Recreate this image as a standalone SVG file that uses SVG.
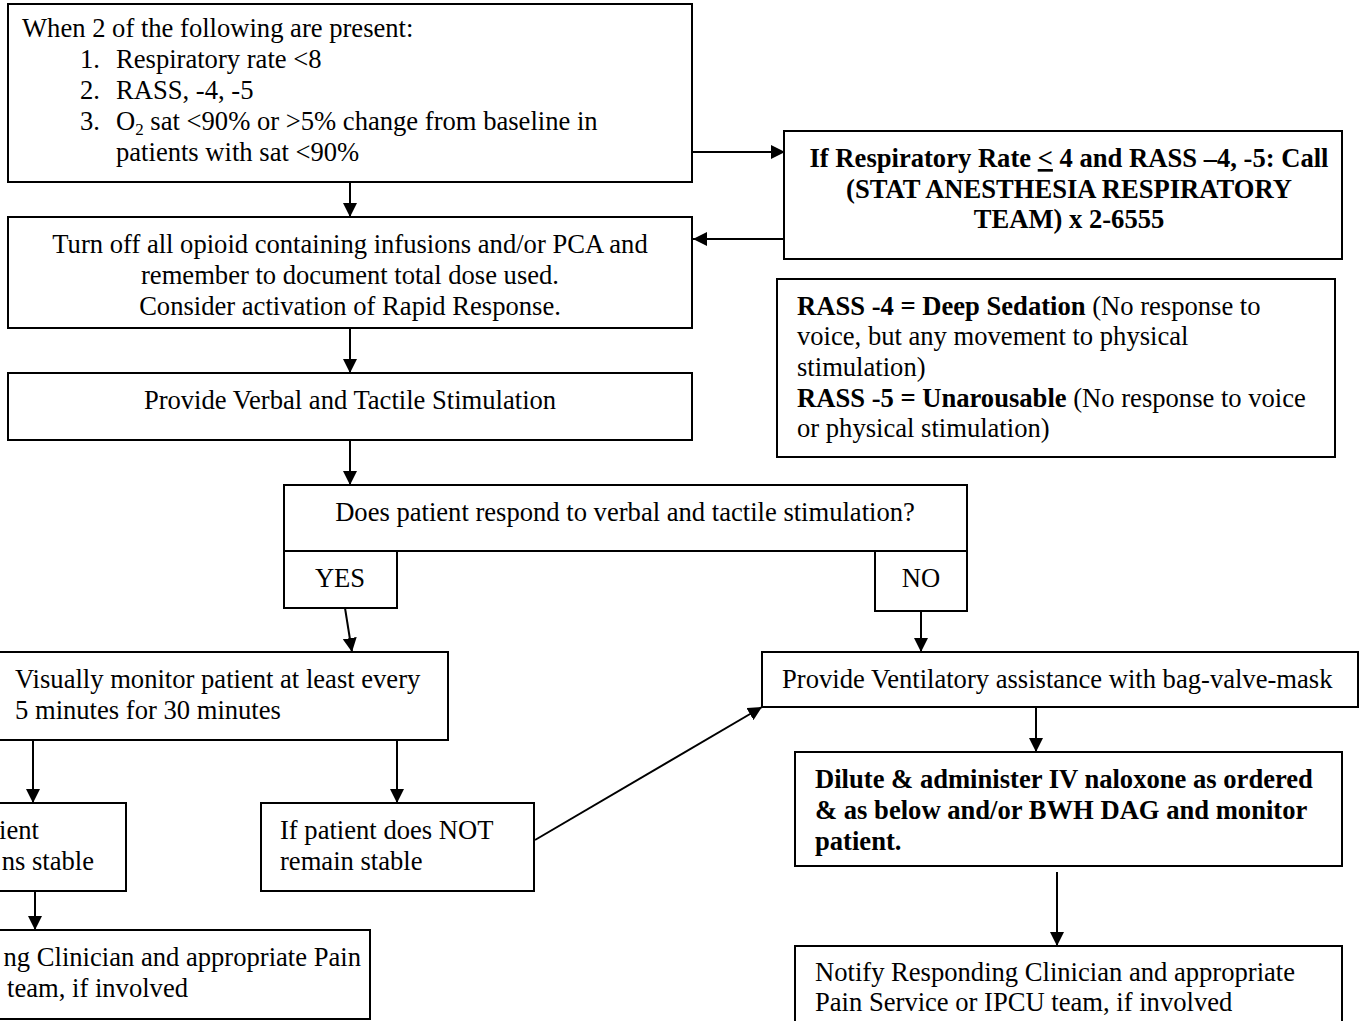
<svg xmlns="http://www.w3.org/2000/svg" width="1362" height="1021" viewBox="0 0 1362 1021">
<defs>
<style>
.box{fill:#fff;stroke:#000;stroke-width:2}
.t{font-family:"Liberation Serif","Times New Roman",serif;font-size:26.6px;fill:#000}
.b{font-weight:bold}
.m{text-anchor:middle}
.e{text-anchor:end}
.c{stroke:#000;stroke-width:2;fill:none;marker-end:url(#ah)}
</style>
<marker id="ah" markerUnits="userSpaceOnUse" markerWidth="14" markerHeight="14" viewBox="0 0 14 14" refX="14" refY="7" orient="auto">
<path d="M0,0 L14,7 L0,14 z" fill="#000"/>
</marker>
</defs>
<rect width="1362" height="1021" fill="#fff"/>
<g id="connectors">
<line class="c" x1="692" y1="152" x2="785" y2="152"/>
<line class="c" x1="784" y1="239" x2="693" y2="239"/>
<line class="c" x1="350" y1="182" x2="350" y2="217"/>
<line class="c" x1="350" y1="328" x2="350" y2="373"/>
<line class="c" x1="350" y1="440" x2="350" y2="485"/>
<line class="c" x1="345" y1="608" x2="352" y2="652"/>
<line class="c" x1="921" y1="611" x2="921" y2="652"/>
<line class="c" x1="33" y1="737" x2="33" y2="803"/>
<line class="c" x1="397" y1="737" x2="397" y2="803"/>
<line class="c" x1="35" y1="889" x2="35" y2="930"/>
<line class="c" x1="535" y1="840" x2="762" y2="707"/>
<line class="c" x1="1036" y1="707" x2="1036" y2="752"/>
<line class="c" x1="1057" y1="872" x2="1057" y2="946"/>
</g>
<g id="n1">
<rect class="box" x="8" y="4" width="684" height="178"/>
<text class="t" x="22" y="37">When 2 of the following are present:</text>
<text class="t" x="80" y="68">1.</text><text class="t" x="116" y="68">Respiratory rate &lt;8</text>
<text class="t" x="80" y="99">2.</text><text class="t" x="116" y="99">RASS, -4, -5</text>
<text class="t" x="80" y="130">3.</text><text class="t" x="116" y="130">O<tspan font-size="17" dy="5">2</tspan><tspan dy="-5"> sat &lt;90% or &gt;5% change from baseline in</tspan></text>
<text class="t" x="116" y="161">patients with sat &lt;90%</text>
</g>
<g id="n2">
<rect class="box" x="784" y="131" width="558" height="128"/>
<text class="t b m" x="1069" y="167">If Respiratory Rate <tspan text-decoration="underline">&lt;</tspan> 4 and RASS –4, -5: Call</text>
<text class="t b m" x="1069" y="198">(STAT ANESTHESIA RESPIRATORY</text>
<text class="t b m" x="1069" y="228">TEAM) x 2-6555</text>
</g>
<g id="n3">
<rect class="box" x="8" y="217" width="684" height="111"/>
<text class="t m" x="350" y="253">Turn off all opioid containing infusions and/or PCA and</text>
<text class="t m" x="350" y="284">remember to document total dose used.</text>
<text class="t m" x="350" y="315">Consider activation of Rapid Response.</text>
</g>
<g id="n4">
<rect class="box" x="777" y="279" width="558" height="178"/>
<text class="t" x="797" y="315"><tspan class="b">RASS -4 = Deep Sedation</tspan> (No response to</text>
<text class="t" x="797" y="345">voice, but any movement to physical</text>
<text class="t" x="797" y="376">stimulation)</text>
<text class="t" x="797" y="407"><tspan class="b">RASS -5 = Unarousable</tspan> (No response to voice</text>
<text class="t" x="797" y="437">or physical stimulation)</text>
</g>
<g id="n5">
<rect class="box" x="8" y="373" width="684" height="67"/>
<text class="t m" x="350" y="409">Provide Verbal and Tactile Stimulation</text>
</g>
<g id="n6">
<rect class="box" x="284" y="485" width="683" height="66"/>
<text class="t m" x="625" y="521">Does patient respond to verbal and tactile stimulation?</text>
</g>
<g id="n7">
<rect class="box" x="284" y="551" width="113" height="57"/>
<text class="t m" x="340" y="587">YES</text>
</g>
<g id="n8">
<rect class="box" x="875" y="551" width="92" height="60"/>
<text class="t m" x="921" y="587">NO</text>
</g>
<g id="n9">
<rect class="box" x="-10" y="652" width="458" height="88"/>
<text class="t" x="15" y="688">Visually monitor patient at least every</text>
<text class="t" x="15" y="719">5 minutes for 30 minutes</text>
</g>
<g id="n10">
<rect class="box" x="-85" y="803" width="211" height="88"/>
<text class="t e" x="39" y="839">ient</text>
<text class="t e" x="94" y="870">ns stable</text>
</g>
<g id="n11">
<rect class="box" x="261" y="803" width="273" height="88"/>
<text class="t" x="280" y="839">If patient does NOT</text>
<text class="t" x="280" y="870">remain stable</text>
</g>
<g id="n12">
<rect class="box" x="-194" y="930" width="564" height="89"/>
<text class="t e" x="361" y="966">ng Clinician and appropriate Pain</text>
<text class="t e" x="188" y="997">team, if involved</text>
</g>
<g id="n13">
<rect class="box" x="762" y="652" width="596" height="55"/>
<text class="t" x="782" y="688">Provide Ventilatory assistance with bag-valve-mask</text>
</g>
<g id="n14">
<rect class="box" x="795" y="752" width="547" height="114"/>
<text class="t b" x="815" y="788">Dilute &amp; administer IV naloxone as ordered</text>
<text class="t b" x="815" y="819">&amp; as below and/or BWH DAG and monitor</text>
<text class="t b" x="815" y="850">patient.</text>
</g>
<g id="n15">
<rect class="box" x="795" y="946" width="547" height="90"/>
<text class="t" x="815" y="981">Notify Responding Clinician and appropriate</text>
<text class="t" x="815" y="1011">Pain Service or IPCU team, if involved</text>
</g>
</svg>
